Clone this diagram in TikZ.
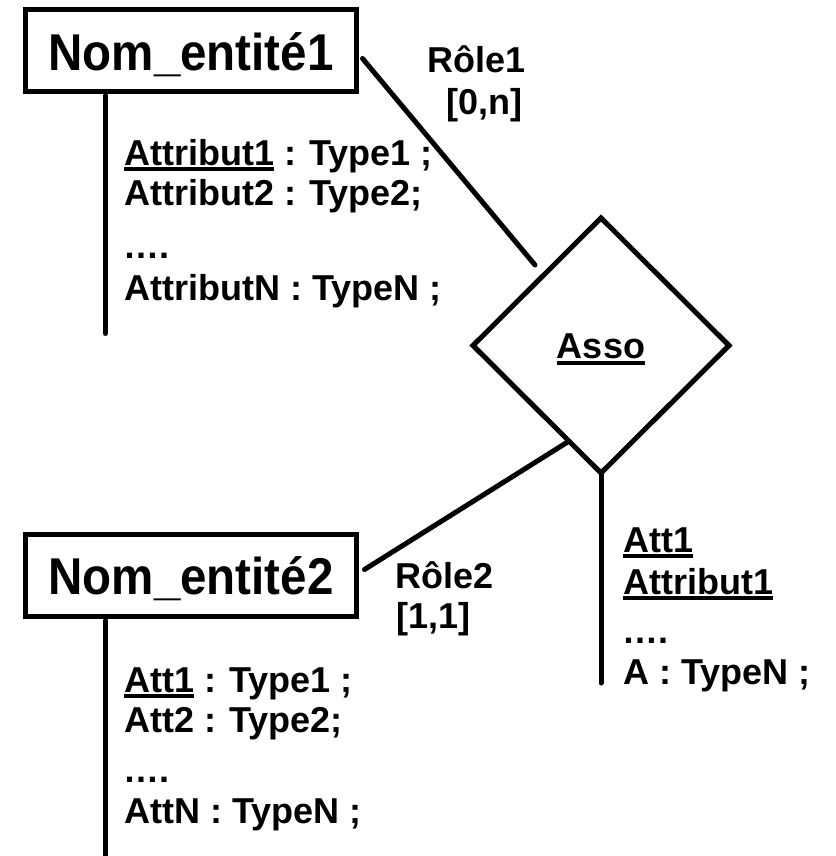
\documentclass[tikz,border=0pt]{standalone}
\usepackage{graphicx}
\usepackage{fontspec}
\setmainfont{Liberation Sans}
\usetikzlibrary{shapes.geometric,calc}

% underlined word with a thick rule under it
\newcommand{\ulword}[1]{\setbox0=\hbox{#1}\rlap{\rule[-6pt]{\wd0}{4pt}}\box0\relax}
% entity title, slightly stretched vertically
\newcommand{\titletext}[1]{\scalebox{1}[1.09]{#1}}

\tikzset{
  entity/.style={draw, rectangle, line width=5pt, minimum width=331pt,
    minimum height=82pt, inner sep=0pt, outer sep=0pt,
    font=\bfseries\fontsize{47.5}{47.5}\selectfont, text depth=0pt},
  relation/.style={draw, diamond, line width=5pt, line join=miter,
    minimum width=256pt, minimum height=255pt, inner sep=0pt, outer sep=0pt,
    font=\bfseries\fontsize{36}{36}\selectfont, text height=26pt, text depth=0pt},
  attr/.style={anchor=base west, inner sep=0pt,
    font=\bfseries\fontsize{36}{36}\selectfont},
  link/.style={line width=5pt, line cap=round},
}

\begin{document}
\begin{tikzpicture}[x=1pt,y=-1pt]
\useasboundingbox[fill=white] (0,0) rectangle (835,856);

% entities and association
\node[entity, text height=41pt] (e1) at (191,50.5) {\titletext{Nom\_entité1}};
\node[entity, text height=37pt] (e2) at (191,575.5) {\titletext{Nom\_entité2}};
\node[relation] (asso) at (601,345.5) {\ulword{Asso}};

% connectors
\coordinate (c1) at (535,265);
\coordinate (c3) at (601,683);
\draw[link] ([shift={(6,8)}]e1.east) -- (c1);
\draw[link] ($(asso.south)!0.25!(asso.west)$) -- ([shift={(8,-6)}]e2.east);
\draw[link] (asso.south) -- (c3);

% attribute stems
\draw[link] ([xshift=80pt,yshift=-4pt]e1.south west) -- ++(0,238);
\draw[link] ([xshift=80pt,yshift=-4pt]e2.south west) -- ++(0,245);

% role labels
\node[attr] (r1) at (427,73) {Rôle1};
\node[attr] (r1c) at (446,115) {[0,n]};
\node[attr] (r2) at (395,588) {Rôle2};
\node[attr] (r2c) at (396,628) {[1,1]};

% attributes of the first entity
\node[attr] (a11) at (124,165) {\ulword{Attribut1} : Type1 ;};
\node[attr] (a12) at (124,205) {Attribut2 : Type2;};
\node[attr] (a13) at (123,258) {….};
\node[attr] (a14) at (124,300) {AttributN : TypeN ;};

% attributes of the second entity
\node[attr] (a21) at (124,692) {\ulword{Att1} : Type1 ;};
\node[attr] (a22) at (124,732) {Att2 : Type2;};
\node[attr] (a23) at (123,782) {….};
\node[attr] (a24) at (124,823) {AttN : TypeN ;};

% attributes of the association
\node[attr] (a31) at (623,552) {\ulword{Att1}};
\node[attr] (a32) at (623,594) {\ulword{Attribut1}};
\node[attr] (a33) at (622,643) {….};
\node[attr] (a34) at (623,684) {A : TypeN ;};
\end{tikzpicture}
\end{document}
